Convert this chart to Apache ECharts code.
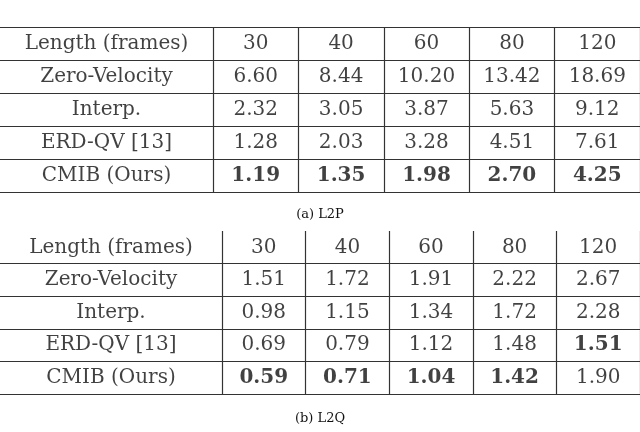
<!DOCTYPE html><html><head><meta charset="utf-8">
<script src="https://cdn.jsdelivr.net/npm/echarts@6/dist/echarts.min.js"></script>
<style>html,body{margin:0;background:#fff}#c{width:640px;height:432px}</style></head><body><div id="c"></div>
<script>
const header = 'Length (frames)';
const lengths = ['30','40','60','80','120'];
const methods = ['Zero-Velocity','Interp.','ERD-QV [13]','CMIB (Ours)'];
const l2pZeroVel = [6.60,8.44,10.20,13.42,18.69];
const l2pInterp = [2.32,3.05,3.87,5.63,9.12];
const l2pErd = [1.28,2.03,3.28,4.51,7.61];
const l2pCmib = [1.19,1.35,1.98,2.70,4.25];
const l2qZeroVel = [1.51,1.72,1.91,2.22,2.67];
const l2qInterp = [0.98,1.15,1.34,1.72,2.28];
const l2qErd = [0.69,0.79,1.12,1.48,1.51];
const l2qCmib = [0.59,0.71,1.04,1.42,1.90];
const captions = ['(a) L2P','(b) L2Q'];

const FONT = 'DejaVu Serif', FS = 20, C = '#111';
const rowsCat = ['h','0','1','2','3'];
function best(col, tbl){ return Math.min(...tbl.map(r=>r[col])); }
function valueData(tbl){
  const d = [];
  lengths.forEach((l,i)=>d.push({value:[i,0],name:l}));
  tbl.forEach((r,ri)=>r.forEach((v,i)=>{
    const b = v===best(i,tbl);
    d.push({value:[i,ri+1],name:v.toFixed(2),label:{fontWeight:b?'bold':'normal'}});
  }));
  return d;
}
function labelData(){ return [header,...methods].map((t,i)=>({value:[0,i],name:t})); }
const labelOpt = {show:true,position:'inside',formatter:p=>p.name,fontFamily:FONT,fontSize:FS,color:C};
const tables = [[l2pZeroVel,l2pInterp,l2pErd,l2pCmib],[l2qZeroVel,l2qInterp,l2qErd,l2qCmib]];
const geo = [{top:27,h:165,split:213,topLine:true},{top:231,h:163,split:222,topLine:false}];
const grids=[],xAxis=[],yAxis=[],series=[];
geo.forEach((g,t)=>{
  grids.push({left:0,width:g.split,top:g.top,height:g.h});
  grids.push({left:g.split,right:-1,top:g.top,height:g.h});
  const line = {show:true,lineStyle:{color:'#333',width:1.2}};
  const yInt = (idx)=> g.topLine || idx!==0;
  xAxis.push({gridIndex:2*t,type:'category',data:['a'],show:false});
  xAxis.push({gridIndex:2*t+1,type:'category',data:lengths,axisLine:{show:false},axisTick:{show:false},axisLabel:{show:false},splitLine:{...line,interval:0}});
  [0,1].forEach(k=>yAxis.push({gridIndex:2*t+k,type:'category',data:rowsCat,inverse:true,axisLine:{show:false},axisTick:{show:false},axisLabel:{show:false},splitLine:{...line,interval:(i)=>yInt(i)}}));
  series.push({type:'scatter',xAxisIndex:2*t,yAxisIndex:2*t,symbolSize:0,data:labelData(),label:labelOpt,silent:true});
  series.push({type:'scatter',xAxisIndex:2*t+1,yAxisIndex:2*t+1,symbolSize:0,data:valueData(tables[t]),label:labelOpt,silent:true});
});
const chart = echarts.init(document.getElementById('c'),null,{renderer:'canvas'});
chart.setOption({animation:false,backgroundColor:'#fff',grid:grids,xAxis,yAxis,series,
  title:[{text:captions[0],left:'center',top:203,textStyle:{fontFamily:FONT,fontSize:13,fontWeight:'normal',color:C}},
         {text:captions[1],left:'center',top:407,textStyle:{fontFamily:FONT,fontSize:13,fontWeight:'normal',color:C}}]});
</script></body></html>
